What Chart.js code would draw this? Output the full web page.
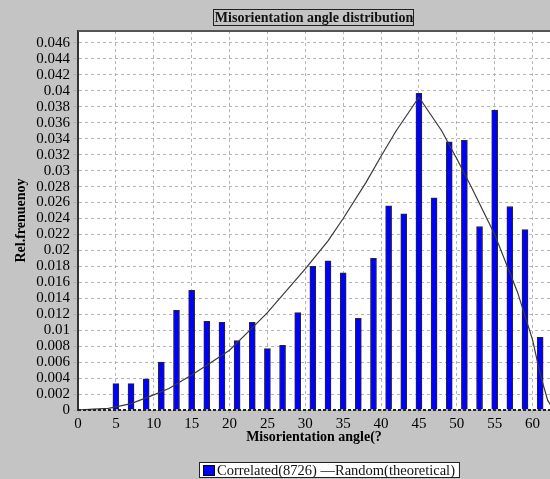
<!DOCTYPE html>
<html>
<head>
<meta charset="utf-8">
<title>Misorientation angle distribution</title>
<script src="https://cdn.jsdelivr.net/npm/chart.js@4.4.0/dist/chart.umd.min.js"></script>
<style>
    html, body { margin: 0; padding: 0; background: #c4c4c4; }
    #wrap { position: relative; width: 550px; height: 479px; }
</style>
</head>
<body>
<div id="wrap"><canvas id="misChart" width="550" height="479"></canvas></div>
<script>
// Bin centres (degrees) and correlated relative frequencies
const binAngles = [5, 7, 9, 11, 13, 15, 17, 19, 21, 23, 25, 27, 29, 31, 33, 35, 37, 39, 41, 43, 45, 47, 49, 51, 53, 55, 57, 59, 61];
const correlated = [0.0033, 0.0033, 0.0039, 0.0060, 0.0125, 0.0150, 0.0111, 0.0110, 0.0087, 0.0110, 0.0077, 0.0081, 0.0122,
    0.0180, 0.0187, 0.0172, 0.0115, 0.0190, 0.0256, 0.0246, 0.0397, 0.0266, 0.0336, 0.0338, 0.0230, 0.0376, 0.0255, 0.0226, 0.0091];

// Random (theoretical) curve
const randomAngles = [0, 2, 4, 5, 7, 10, 12, 15, 17, 20, 23, 25, 28, 30, 33, 35, 38, 40, 42, 45, 48, 50, 52, 55, 58, 60, 61, 62, 62.8];
const randomFreq = [0, 0.0001, 0.0002, 0.0004, 0.0008, 0.0019, 0.0027, 0.0044, 0.0056, 0.0075, 0.0103, 0.0122, 0.0155, 0.0177,
    0.0212, 0.0240, 0.0285, 0.0318, 0.0350, 0.0392, 0.0350, 0.0315, 0.0278, 0.0220, 0.0148, 0.0088, 0.0045, 0.0012, 0];

const titleText = 'Misorientation angle distribution';
const xTitle = 'Misorientation angle(?';
const yTitle = 'Rel.frenuenoy';
const barLabel = 'Correlated(8726)';
const lineLabel = 'Random(theoretical)';

const serif = '"Liberation Serif", "Times New Roman", serif';

// White plot area on the grey page
const plotBackground = {
    id: 'plotBackground',
    beforeDraw(chart) {
        const { ctx, chartArea: a } = chart;
        ctx.save();
        ctx.fillStyle = '#ffffff';
        ctx.fillRect(a.left, a.top, a.right - a.left, a.bottom - a.top);
        ctx.restore();
    }
};

// Boxed title, frame lines and boxed legend
const frames = {
    id: 'frames',
    afterDraw(chart) {
        const { ctx, chartArea: a } = chart;
        ctx.save();

        // top frame line
        ctx.strokeStyle = '#555';
        ctx.lineWidth = 2;
        ctx.beginPath();
        ctx.moveTo(a.left, a.top);
        ctx.lineTo(a.right, a.top);
        ctx.stroke();

        // dashed dark bottom axis line
        ctx.strokeStyle = '#222';
        ctx.lineWidth = 2;
        ctx.setLineDash([3, 2]);
        ctx.beginPath();
        ctx.moveTo(a.left, a.bottom);
        ctx.lineTo(a.right, a.bottom);
        ctx.stroke();
        ctx.setLineDash([]);

        // title
        ctx.font = 'bold 14px ' + serif;
        ctx.fillStyle = '#111';
        ctx.textBaseline = 'alphabetic';
        const tw = ctx.measureText(titleText).width;
        const tx = (a.left + a.right) / 2 - tw / 2;
        ctx.fillText(titleText, tx, 22);
        ctx.strokeStyle = '#222';
        ctx.lineWidth = 1;
        ctx.strokeRect(Math.round(tx) - 1.5, 9.5, Math.round(tw) + 2, 16);

        // legend
        ctx.font = '14.5px ' + serif;
        const lx = 199;
        const top = 462;
        const w1 = ctx.measureText(barLabel).width;
        const rest = ' \u2014' + lineLabel;
        const w2 = ctx.measureText(rest).width;
        const boxW = 18 + w1 + w2 + 4;
        ctx.fillStyle = '#ffffff';
        ctx.fillRect(lx, top, boxW, 16);
        ctx.strokeStyle = '#222';
        ctx.strokeRect(lx + 0.5, top + 0.5, boxW, 15);
        ctx.fillStyle = '#0000ff';
        ctx.fillRect(lx + 4, top + 3, 12, 11);
        ctx.strokeStyle = '#000';
        ctx.strokeRect(lx + 4.5, top + 3.5, 11, 10);
        ctx.fillStyle = '#111';
        ctx.fillText(barLabel, lx + 18, top + 13);
        ctx.fillText(rest, lx + 18 + w1, top + 13);

        ctx.restore();
    }
};

const ctx = document.getElementById('misChart');

new Chart(ctx, {
    type: 'bar',
    data: {
        datasets: [
            {
                type: 'line',
                label: lineLabel,
                data: randomAngles.map((x, i) => ({ x: x, y: randomFreq[i] })),
                borderColor: '#3a3a3a',
                borderWidth: 1.2,
                pointRadius: 0,
                tension: 0,
                fill: false,
                order: 0
            },
            {
                type: 'bar',
                label: barLabel,
                data: binAngles.map((x, i) => ({ x: x, y: correlated[i] })),
                backgroundColor: '#0000ff',
                borderColor: '#2a2a1a',
                borderWidth: 1,
                barThickness: 6,
                order: 1
            }
        ]
    },
    options: {
        responsive: false,
        animation: false,
        layout: {
            padding: { top: 31, right: 0, bottom: 33, left: 0 }
        },
        plugins: {
            legend: { display: false },
            title: { display: false },
            tooltip: { enabled: false }
        },
        scales: {
            x: {
                type: 'linear',
                min: 0,
                max: 62.3,
                offset: false,
                afterFit(scale) { scale.height = 36; },
                ticks: {
                    stepSize: 5,
                    includeBounds: false,
                    autoSkip: false,
                    maxRotation: 0,
                    padding: 2,
                    color: '#000',
                    font: { family: serif, size: 15 },
                    callback: (v) => (v <= 60 ? String(v) : '')
                },
                grid: {
                    offset: false,
                    color: '#b4b4b4',
                    tickLength: 3
                },
                border: {
                    display: false,
                    dash: [3, 3]
                },
                title: {
                    display: true,
                    text: xTitle,
                    color: '#000',
                    padding: 0,
                    font: { family: serif, size: 14, weight: 'bold' }
                }
            },
            y: {
                min: 0,
                max: 0.0475,
                afterFit(scale) { scale.width = 78; },
                ticks: {
                    stepSize: 0.002,
                    includeBounds: false,
                    autoSkip: false,
                    padding: 3,
                    color: '#000',
                    font: { family: serif, size: 15 },
                    callback: (v) => {
                        const r = Math.round(v * 1000) / 1000;
                        return r > 0.0465 ? '' : String(r);
                    }
                },
                grid: {
                    color: '#b4b4b4',
                    tickLength: 5
                },
                border: {
                    display: true,
                    color: '#333',
                    width: 2,
                    dash: [3, 3]
                },
                title: {
                    display: true,
                    text: yTitle,
                    color: '#000',
                    padding: { top: 13, bottom: 0 },
                    font: { family: serif, size: 14, weight: 'bold' }
                }
            }
        }
    },
    plugins: [plotBackground, frames]
});
</script>
</body>
</html>
